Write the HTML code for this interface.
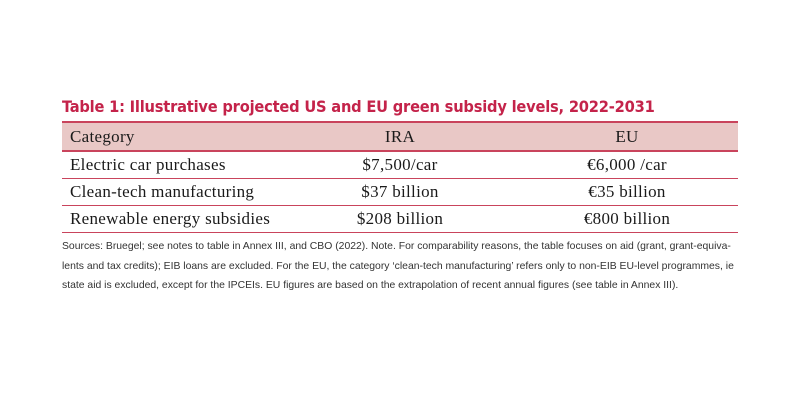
<!DOCTYPE html>
<html><head><meta charset="utf-8"><style>
body{margin:0;width:800px;height:418px;background:#fff;position:relative;overflow:hidden}
.t{position:absolute;left:62px;top:97px;font:bold 16.3px "DejaVu Sans Condensed","Liberation Sans",sans-serif;color:#c4234a;letter-spacing:-0.2px;white-space:nowrap}
table{position:absolute;left:62px;top:121px;width:676px;border-collapse:collapse;font:17px "Liberation Serif",serif;letter-spacing:0.3px;color:#1a1a1a}
td,th{height:26px;padding:0;border-bottom:1.5px solid #c9445c;font-weight:normal}
th{background:#e9c8c6;height:27px;border-top:2px solid #c9445c;border-bottom:2px solid #c9445c}
.c1{text-align:left;padding-left:8px;width:214px}
.c2{text-align:center;width:232px}
.c3{text-align:center}
.n{position:absolute;left:62px;top:237px;width:700px;font:10.4px "Liberation Sans Narrow","Liberation Sans",sans-serif;color:#333;line-height:19.5px;white-space:nowrap}
</style></head><body>
<div class="t">Table 1: Illustrative projected US and EU green subsidy levels, 2022-2031</div>
<table>
<tr><th class="c1">Category</th><th class="c2">IRA</th><th class="c3">EU</th></tr>
<tr><td class="c1">Electric car purchases</td><td class="c2">$7,500/car</td><td class="c3">€6,000 /car</td></tr>
<tr><td class="c1">Clean-tech manufacturing</td><td class="c2">$37 billion</td><td class="c3">€35 billion</td></tr>
<tr><td class="c1">Renewable energy subsidies</td><td class="c2">$208 billion</td><td class="c3">€800 billion</td></tr>
</table>
<div class="n">Sources: Bruegel; see notes to table in Annex III, and CBO (2022). Note. For comparability reasons, the table focuses on aid (grant, grant-equiva-<br>lents and tax credits); EIB loans are excluded. For the EU, the category ‘clean-tech manufacturing’ refers only to non-EIB EU-level programmes, ie<br>state aid is excluded, except for the IPCEIs. EU figures are based on the extrapolation of recent annual figures (see table in Annex III).</div>
</body></html>
